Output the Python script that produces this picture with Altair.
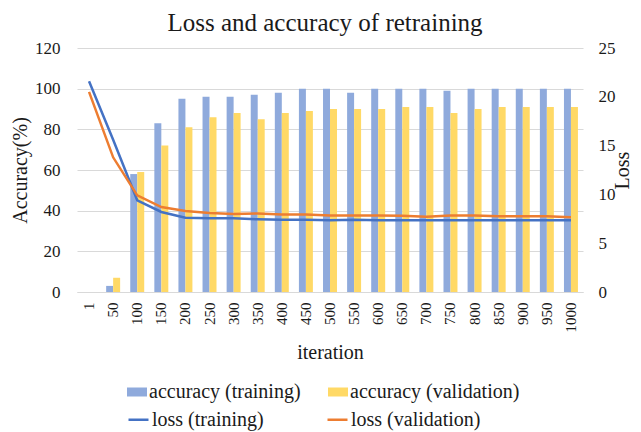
import altair as alt
import pandas as pd

iterations = ["1", "50", "100", "150", "200", "250", "300", "350", "400", "450", "500",
              "550", "600", "650", "700", "750", "800", "850", "900", "950", "1000"]
acc_train = [0, 3, 58, 83, 95, 96, 96, 97, 98, 100, 100, 98, 100, 100, 100, 99, 100, 100, 100, 100, 100]
acc_val = [0, 7, 59, 72, 81, 86, 88, 85, 88, 89, 90, 90, 90, 91, 91, 88, 90, 91, 91, 91, 91]
loss_train = [21.6, 15.6, 9.4, 8.2, 7.6, 7.55, 7.55, 7.45, 7.4, 7.4, 7.35, 7.4, 7.35, 7.35, 7.35,
              7.35, 7.35, 7.35, 7.35, 7.35, 7.35]
loss_val = [20.5, 13.8, 9.9, 8.7, 8.3, 8.1, 8.0, 8.05, 7.95, 7.95, 7.85, 7.85, 7.85, 7.8, 7.7,
            7.85, 7.85, 7.75, 7.75, 7.75, 7.65]

bar_series = ["accuracy (training)", "accuracy (validation)"]
line_series = ["loss (training)", "loss (validation)"]
bar_colors = ["#8FAADC", "#FFD966"]
line_colors = ["#4472C4", "#ED7D31"]

FONT = "Times New Roman, Liberation Serif, DejaVu Serif, serif"
TXT = "#1a1a1a"

bar_df = pd.DataFrame({
    "iteration": iterations * 2,
    "series": [bar_series[0]] * len(iterations) + [bar_series[1]] * len(iterations),
    "value": acc_train + acc_val,
})
line_df = pd.DataFrame({
    "iteration": iterations * 2,
    "series": [line_series[0]] * len(iterations) + [line_series[1]] * len(iterations),
    "value": loss_train + loss_val,
})

x_enc = alt.X(
    "iteration:N", sort=iterations,
    scale=alt.Scale(paddingInner=0.42, paddingOuter=0.21),
    axis=alt.Axis(title="iteration", labelAngle=270, ticks=False, domainColor="#d9d9d9",
                  labelFont=FONT, labelFontSize=15, labelPadding=10,
                  titleFontSize=20, titlePadding=10, grid=False),
)

bars = alt.Chart(bar_df).mark_bar().encode(
    x=x_enc,
    xOffset=alt.XOffset("series:N", sort=bar_series, scale=alt.Scale(paddingInner=0, paddingOuter=0)),
    y=alt.Y("value:Q", scale=alt.Scale(domain=[0, 120]),
            axis=alt.Axis(title="Accuracy(%)", values=[0, 20, 40, 60, 80, 100, 120], ticks=False,
                          domain=False, gridColor="#d9d9d9", labelFont=FONT, labelFontSize=17,
                          labelPadding=17, titleFontSize=20, titlePadding=4)),
    fill=alt.Fill("series:N", sort=bar_series,
                  scale=alt.Scale(domain=bar_series, range=bar_colors),
                  legend=alt.Legend(title=None, orient="none", legendX=50, legendY=334,
                                    direction="horizontal", columns=2, columnPadding=27,
                                    symbolType="M-1,-0.45H1V0.45H-1Z", symbolSize=400,
                                    symbolStrokeWidth=0, labelFont=FONT, labelLimit=400,
                                    labelFontSize=20, labelOffset=2)),
)

lines = alt.Chart(line_df).mark_line(strokeWidth=2.5).encode(
    x=alt.X("iteration:N", sort=iterations),
    y=alt.Y("value:Q", scale=alt.Scale(domain=[0, 25]),
            axis=alt.Axis(title="Loss", orient="right", values=[0, 5, 10, 15, 20, 25], ticks=False,
                          domain=False, grid=False, labelFont=FONT, labelFontSize=17,
                          labelPadding=15, titleFontSize=20, titlePadding=17, titleAngle=270)),
    stroke=alt.Stroke("series:N", sort=line_series,
                      scale=alt.Scale(domain=line_series, range=line_colors),
                      legend=alt.Legend(title=None, orient="none", legendX=50, legendY=360,
                                        direction="horizontal", columns=2, columnPadding=58,
                                        symbolType="stroke", symbolSize=400, symbolStrokeWidth=2.5,
                                        labelFont=FONT, labelLimit=400, labelFontSize=20,
                                        labelOffset=2)),
)

chart = alt.layer(bars, lines).resolve_scale(
    y="independent", fill="independent", stroke="independent"
).properties(
    width=506, height=244,
    autosize=alt.AutoSizeParams(type="none"),
    padding={"left": 69, "top": 40, "right": 50, "bottom": 140},
    title=alt.TitleParams("Loss and accuracy of retraining", fontSize=25, anchor="middle",
                          offset=3, dx=-5),
).configure(
    font=FONT,
    style={"guide-label": {"font": FONT}, "guide-title": {"font": FONT}},
).configure_axis(
    labelFont=FONT, titleFont=FONT, labelColor=TXT, titleColor=TXT, titleFontWeight="normal"
).configure_legend(
    labelFont=FONT, labelColor=TXT
).configure_title(
    font=FONT, color=TXT, fontWeight="normal"
).configure_view(stroke=None)

chart.save("out.html", embed_options={"renderer": "svg", "actions": False})
